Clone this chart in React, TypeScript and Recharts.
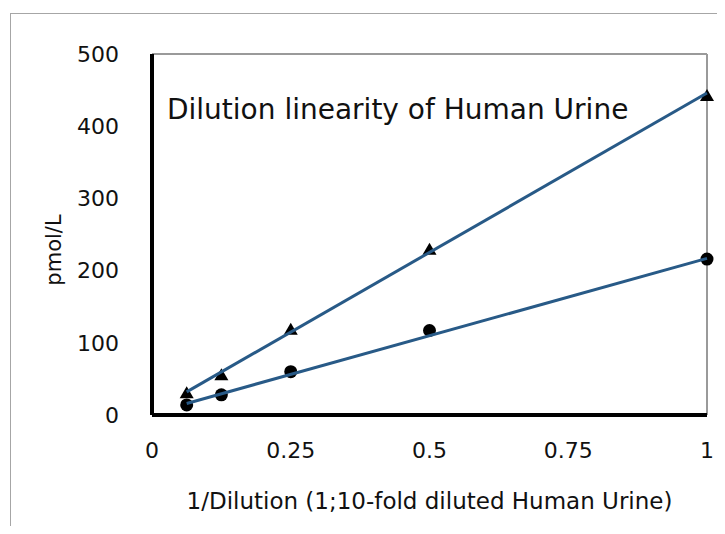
import { Label, ReferenceLine, Scatter, ScatterChart, XAxis, YAxis } from "recharts";

// 1/Dilution steps and measured pmol/L
const dilucion = [0.0625, 0.125, 0.25, 0.5, 1];
const serieTriangulos = [30, 55, 118, 229, 442];
const serieCirculos = [14, 28, 60, 117, 216];

// trend lines (ends)
const tendenciaX = [0.0625, 1];
const tendenciaTriangulos = [32, 446];
const tendenciaCirculos = [16, 217];

const ticksX = [0, 0.25, 0.5, 0.75, 1];
const ticksY = [0, 100, 200, 300, 400, 500];

const titulo = "Dilution linearity of Human Urine";
const etiquetaX = "1/Dilution (1;10-fold diluted Human Urine)";
const etiquetaY = "pmol/L";

const FUENTE = "'DejaVu Sans', Verdana, sans-serif";
const AZUL = "#285a87";
const TEXTO = "#111";

const puntosTri = dilucion.map((x, i) => ({ x, y: serieTriangulos[i] }));
const puntosCir = dilucion.map((x, i) => ({ x, y: serieCirculos[i] }));
const lineaTri = tendenciaX.map((x, i) => ({ x, y: tendenciaTriangulos[i] }));
const lineaCir = tendenciaX.map((x, i) => ({ x, y: tendenciaCirculos[i] }));

function Triangulo({ cx, cy }: { cx?: number; cy?: number }) {
  if (cx == null || cy == null) return <g />;
  return <polygon points={`${cx},${cy - 7} ${cx + 7},${cy + 5} ${cx - 7},${cy + 5}`} fill="#000" />;
}

function Circulo({ cx, cy }: { cx?: number; cy?: number }) {
  if (cx == null || cy == null) return <g />;
  return <circle cx={cx} cy={cy} r={6.5} fill="#000" />;
}

const Nada = () => <g />;

export default function App() {
  return (
    <div style={{ position: "relative", width: 725, height: 534, margin: -8, overflow: "hidden", background: "#fff" }}>
      <ScatterChart width={725} height={534} margin={{ top: 54, right: 18, bottom: 0, left: 0 }}>
        <XAxis
          type="number"
          dataKey="x"
          domain={[0, 1]}
          ticks={ticksX}
          interval={0}
          height={119}
          axisLine={{ stroke: "#000", strokeWidth: 4 }}
          tickLine={false}
          tickSize={0}
          tickMargin={27}
          tick={{ fill: TEXTO, fontSize: 22, fontFamily: FUENTE }}
        >
          <Label
            value={etiquetaX}
            position="insideBottom"
            offset={25}
            style={{ fill: TEXTO, fontSize: 23, fontFamily: FUENTE }}
          />
        </XAxis>
        <YAxis
          type="number"
          dataKey="y"
          domain={[0, 500]}
          ticks={ticksY}
          interval={0}
          width={152}
          axisLine={{ stroke: "#000", strokeWidth: 4 }}
          tickLine={false}
          tickSize={0}
          tickMargin={33}
          tick={{ fill: TEXTO, fontSize: 22, fontFamily: FUENTE }}
        >
          <Label
            content={() => (
              <text
                transform="rotate(-90)"
                x={-250}
                y={61}
                textAnchor="middle"
                fill={TEXTO}
                fontSize={21}
                fontFamily={FUENTE}
              >
                {etiquetaY}
              </text>
            )}
          />
        </YAxis>
        <ReferenceLine y={500} stroke="#9a9a9a" strokeWidth={2} />
        <ReferenceLine x={1} stroke="#9a9a9a" strokeWidth={2} />
        <Scatter data={puntosTri} shape={Triangulo} isAnimationActive={false} />
        <Scatter data={puntosCir} shape={Circulo} isAnimationActive={false} />
        <Scatter data={lineaTri} shape={Nada} line={{ stroke: AZUL, strokeWidth: 3 }} isAnimationActive={false} />
        <Scatter data={lineaCir} shape={Nada} line={{ stroke: AZUL, strokeWidth: 3 }} isAnimationActive={false} />
      </ScatterChart>
      <svg width={725} height={534} style={{ position: "absolute", left: 0, top: 0, pointerEvents: "none" }}>
        <rect x={10.5} y={13.5} width={800} height={600} fill="none" stroke="#a6a6a6" strokeWidth={1} />
        <text x={167} y={119} fill={TEXTO} fontSize={28} fontFamily={FUENTE}>
          {titulo}
        </text>
      </svg>
    </div>
  );
}
